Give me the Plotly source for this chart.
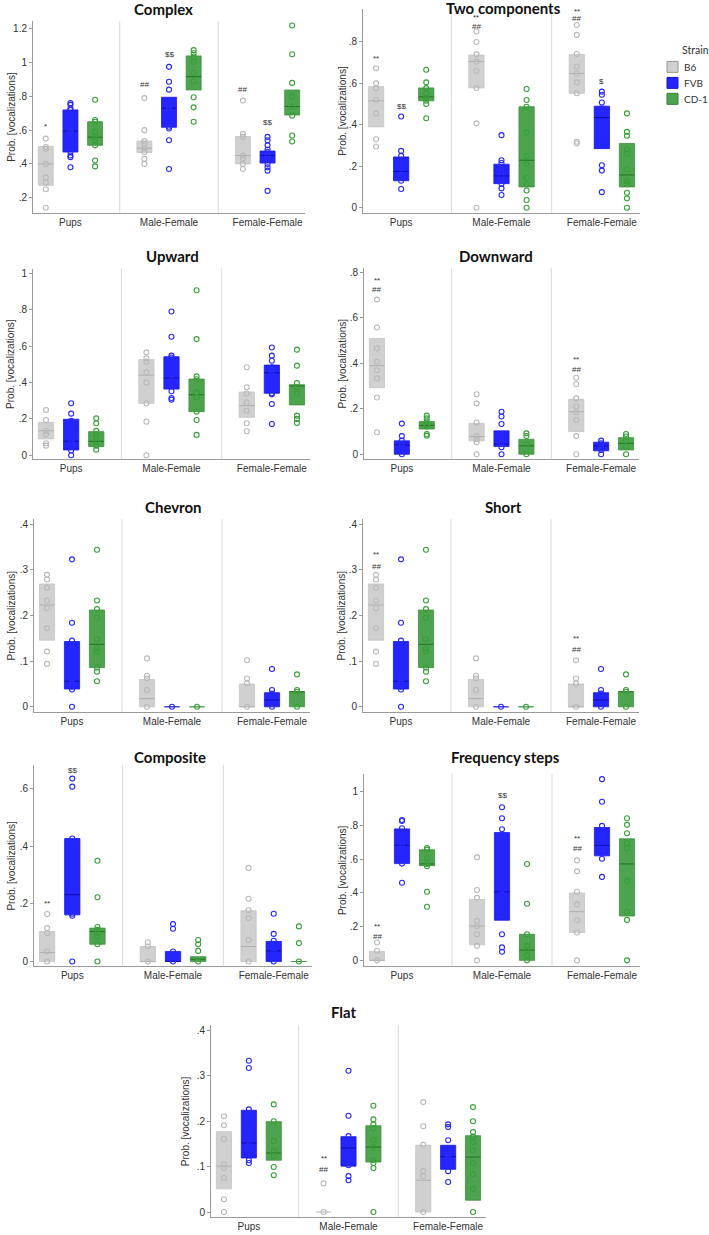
import plotly.graph_objects as go

W, H = 709, 1235
categories = ["Pups", "Male-Female", "Female-Female"]
strains = ["B6", "FVB", "CD-1"]

# ---------------- data (points per strain -> group; boxes = [q1, median, q3]) -------------
complex_pts = [
    [[0.55, 0.50, 0.49, 0.40, 0.32, 0.29, 0.25, 0.14],
     [0.79, 0.60, 0.535, 0.52, 0.49, 0.47, 0.43, 0.40],
     [0.775, 0.578, 0.56, 0.45, 0.43, 0.40, 0.37]],
    [[0.76, 0.75, 0.73, 0.72, 0.60, 0.59, 0.58, 0.47, 0.45, 0.44, 0.38],
     [0.975, 0.887, 0.84, 0.765, 0.75, 0.735, 0.72, 0.62, 0.61, 0.54, 0.37],
     [0.56, 0.54, 0.51, 0.485, 0.47, 0.45, 0.43, 0.40, 0.38, 0.36, 0.24]],
    [[0.78, 0.66, 0.65, 0.59, 0.56, 0.54, 0.51, 0.42, 0.385],
     [1.074, 1.056, 1.036, 1.005, 0.94, 0.89, 0.795, 0.735, 0.65],
     [1.22, 1.05, 0.88, 0.80, 0.74, 0.686, 0.568, 0.533]],
]
complex_box = [
    [[0.273, 0.40, 0.503], [0.468, 0.493, 0.535], [0.40, 0.45, 0.562]],
    [[0.47, 0.594, 0.72], [0.617, 0.73, 0.795], [0.405, 0.45, 0.476]],
    [[0.51, 0.558, 0.65], [0.838, 0.917, 1.04], [0.69, 0.74, 0.838]],
]
complex_marks = [(0, 0, 0.62, "*"), (0, 1, 0.87, "##"), (1, 1, 1.05, "$$"),
                 (0, 2, 0.84, "##"), (1, 2, 0.647, "$$")]

two_pts = [
    [[0.673, 0.60, 0.577, 0.52, 0.455, 0.33, 0.295],
     [0.85, 0.80, 0.74, 0.705, 0.66, 0.578, 0.407, 0.0],
     [0.882, 0.834, 0.742, 0.68, 0.648, 0.605, 0.552, 0.318, 0.31]],
    [[0.44, 0.274, 0.25, 0.218, 0.194, 0.16, 0.15, 0.13, 0.09],
     [0.35, 0.229, 0.216, 0.195, 0.173, 0.152, 0.131, 0.115, 0.093, 0.061],
     [0.56, 0.545, 0.508, 0.48, 0.455, 0.41, 0.368, 0.205, 0.179, 0.075]],
    [[0.666, 0.605, 0.577, 0.55, 0.53, 0.516, 0.50, 0.432],
     [0.573, 0.52, 0.487, 0.363, 0.248, 0.211, 0.144, 0.112, 0.083, 0.037, 0.0],
     [0.455, 0.366, 0.347, 0.282, 0.26, 0.184, 0.128, 0.115, 0.072, 0.045, 0.0]],
]
two_box = [
    [[0.39, 0.516, 0.585], [0.578, 0.706, 0.737], [0.552, 0.648, 0.739]],
    [[0.13, 0.175, 0.245], [0.116, 0.153, 0.21], [0.285, 0.435, 0.49]],
    [[0.516, 0.535, 0.578], [0.10, 0.229, 0.487], [0.10, 0.158, 0.31]],
]
two_marks = [(0, 0, 0.72, "**"), (1, 0, 0.487, "$$"), (0, 1, 0.916, "**"), (0, 1, 0.874, "##"),
             (0, 2, 0.947, "**"), (0, 2, 0.911, "##"), (1, 2, 0.608, "$")]

upward_pts = [
    [[0.249, 0.194, 0.135, 0.115, 0.066, 0.053],
     [0.566, 0.533, 0.515, 0.456, 0.40, 0.286, 0.185, 0.0],
     [0.484, 0.374, 0.34, 0.29, 0.245, 0.176, 0.132]],
    [[0.286, 0.229, 0.19, 0.147, 0.114, 0.09, 0.075, 0.048, 0.026, 0.0],
     [0.791, 0.652, 0.548, 0.538, 0.48, 0.447, 0.414, 0.383, 0.352, 0.315, 0.306],
     [0.593, 0.548, 0.52, 0.484, 0.47, 0.447, 0.341, 0.335, 0.282, 0.172]],
    [[0.203, 0.176, 0.134, 0.114, 0.095, 0.077, 0.053, 0.031],
     [0.908, 0.639, 0.434, 0.418, 0.346, 0.319, 0.24, 0.194, 0.112],
     [0.581, 0.493, 0.397, 0.374, 0.34, 0.218, 0.2, 0.178]],
]
upward_box = [
    [[0.09, 0.135, 0.181], [0.286, 0.441, 0.526], [0.209, 0.273, 0.348]],
    [[0.029, 0.077, 0.198], [0.364, 0.425, 0.542], [0.341, 0.454, 0.496]],
    [[0.048, 0.077, 0.13], [0.24, 0.333, 0.419], [0.277, 0.381, 0.388]],
]
upward_marks = []

downward_pts = [
    [[0.681, 0.558, 0.466, 0.407, 0.37, 0.334, 0.25, 0.097],
     [0.264, 0.223, 0.14, 0.08, 0.066, 0.053, 0.0],
     [0.337, 0.308, 0.246, 0.21, 0.185, 0.151, 0.08, 0.0]],
    [[0.135, 0.08, 0.06, 0.045, 0.03, 0.015, 0.0],
     [0.187, 0.166, 0.133, 0.075, 0.051, 0.031, 0.0],
     [0.06, 0.048, 0.037, 0.019, 0.0]],
    [[0.17, 0.158, 0.144, 0.13, 0.122, 0.089, 0.082],
     [0.092, 0.08, 0.044, 0.0],
     [0.089, 0.078, 0.06, 0.034, 0.0]],
]
downward_box = [
    [[0.293, 0.39, 0.51], [0.059, 0.078, 0.136], [0.10, 0.187, 0.242]],
    [[0.0, 0.041, 0.059], [0.034, 0.045, 0.103], [0.015, 0.037, 0.053]],
    [[0.111, 0.127, 0.144], [0.0, 0.037, 0.066], [0.019, 0.048, 0.073]],
]
downward_marks = [(0, 0, 0.765, "**"), (0, 0, 0.727, "##"), (0, 2, 0.418, "**"), (0, 2, 0.371, "##")]

chevron_pts = [
    [[0.289, 0.279, 0.261, 0.233, 0.216, 0.172, 0.121, 0.094],
     [0.106, 0.068, 0.062, 0.037, 0.0],
     [0.102, 0.062, 0.051, 0.0]],
    [[0.323, 0.184, 0.145, 0.135, 0.06, 0.053, 0.044, 0.038, 0.0],
     [0.0],
     [0.083, 0.037, 0.029, 0.026, 0.0]],
    [[0.344, 0.233, 0.214, 0.195, 0.148, 0.128, 0.121, 0.086, 0.077, 0.056],
     [0.0],
     [0.071, 0.037, 0.033, 0.0]],
]
chevron_box = [
    [[0.146, 0.223, 0.269], [0.0, 0.018, 0.06], [0.0, 0.0, 0.05]],
    [[0.039, 0.056, 0.143], [0.0, 0.0, 0.0], [0.0, 0.015, 0.031]],
    [[0.086, 0.137, 0.212], [0.0, 0.0, 0.0], [0.0, 0.033, 0.033]],
]
chevron_marks = []

short_pts = [
    [[0.289, 0.279, 0.261, 0.233, 0.216, 0.172, 0.121, 0.094],
     [0.106, 0.068, 0.062, 0.037, 0.0],
     [0.102, 0.062, 0.051, 0.0]],
    [[0.323, 0.184, 0.145, 0.135, 0.06, 0.053, 0.044, 0.038, 0.0],
     [0.0],
     [0.083, 0.037, 0.029, 0.026, 0.0]],
    [[0.344, 0.233, 0.214, 0.195, 0.148, 0.128, 0.121, 0.086, 0.077, 0.056],
     [0.0],
     [0.071, 0.037, 0.033, 0.0]],
]
short_box = [
    [[0.146, 0.223, 0.269], [0.0, 0.018, 0.06], [0.0, 0.0, 0.05]],
    [[0.039, 0.056, 0.143], [0.0, 0.0, 0.0], [0.0, 0.015, 0.031]],
    [[0.086, 0.137, 0.212], [0.0, 0.0, 0.0], [0.0, 0.033, 0.033]],
]
short_marks = [(0, 0, 0.333, "**"), (0, 0, 0.307, "##"), (0, 2, 0.149, "**"), (0, 2, 0.126, "##")]

composite_pts = [
    [[0.165, 0.116, 0.099, 0.035, 0.0],
     [0.067, 0.052, 0.0],
     [0.325, 0.218, 0.178, 0.151, 0.075, 0.0]],
    [[0.635, 0.607, 0.427, 0.255, 0.247, 0.217, 0.166, 0.159, 0.0],
     [0.13, 0.114, 0.035, 0.0],
     [0.166, 0.096, 0.072, 0.06, 0.046, 0.032, 0.0]],
    [[0.35, 0.223, 0.12, 0.11, 0.099, 0.087, 0.06, 0.0],
     [0.075, 0.06, 0.037, 0.0],
     [0.122, 0.064, 0.0]],
]
composite_box = [
    [[0.0, 0.031, 0.104], [0.0, 0.0, 0.052], [0.0, 0.052, 0.176]],
    [[0.162, 0.232, 0.427], [0.0, 0.0, 0.035], [0.0, 0.037, 0.07]],
    [[0.06, 0.104, 0.116], [0.0, 0.008, 0.017], [0.0, 0.0, 0.0]],
]
composite_marks = [(0, 0, 0.20, "**"), (1, 0, 0.664, "$$")]

freq_pts = [
    [[0.106, 0.057, 0.0],
     [0.611, 0.417, 0.371, 0.234, 0.204, 0.155, 0.086, 0.0],
     [0.593, 0.528, 0.407, 0.332, 0.238, 0.165, 0.0]],
    [[0.833, 0.827, 0.784, 0.745, 0.705, 0.672, 0.637, 0.574, 0.46],
     [0.908, 0.843, 0.778, 0.745, 0.456, 0.42, 0.39, 0.328, 0.155, 0.077, 0.051],
     [1.075, 0.941, 0.798, 0.75, 0.715, 0.66, 0.637, 0.603, 0.495]],
    [[0.666, 0.656, 0.607, 0.572, 0.558, 0.407, 0.318],
     [0.572, 0.336, 0.155, 0.086, 0.061, 0.028, 0.0],
     [0.843, 0.804, 0.754, 0.695, 0.666, 0.473, 0.287, 0.24, 0.0]],
]
freq_box = [
    [[0.0, 0.0, 0.053], [0.092, 0.204, 0.361], [0.165, 0.289, 0.40]],
    [[0.574, 0.682, 0.78], [0.238, 0.407, 0.758], [0.62, 0.682, 0.788]],
    [[0.562, 0.572, 0.656], [0.0, 0.061, 0.155], [0.263, 0.572, 0.721]],
]
freq_marks = [(0, 0, 0.198, "**"), (0, 0, 0.139, "##"), (1, 1, 0.976, "$$"),
              (0, 2, 0.725, "**"), (0, 2, 0.666, "##")]

flat_pts = [
    [[0.211, 0.191, 0.161, 0.105, 0.097, 0.075, 0.028, 0.0],
     [0.063, 0.0],
     [0.242, 0.189, 0.148, 0.09, 0.079, 0.0]],
    [[0.333, 0.317, 0.226, 0.213, 0.166, 0.147, 0.139, 0.114, 0.108],
     [0.311, 0.212, 0.167, 0.154, 0.129, 0.119, 0.103, 0.079, 0.07],
     [0.193, 0.187, 0.158, 0.14, 0.127, 0.122, 0.108, 0.09, 0.066]],
    [[0.237, 0.2, 0.156, 0.134, 0.123, 0.099, 0.081],
     [0.234, 0.204, 0.193, 0.185, 0.158, 0.143, 0.114, 0.108, 0.097, 0.0],
     [0.231, 0.2, 0.176, 0.166, 0.154, 0.136, 0.108, 0.083, 0.051, 0.0]],
]
flat_box = [
    [[0.051, 0.101, 0.177], [0.0, 0.0, 0.0], [0.0, 0.07, 0.147]],
    [[0.119, 0.152, 0.224], [0.101, 0.141, 0.166], [0.094, 0.122, 0.147]],
    [[0.114, 0.13, 0.199], [0.11, 0.143, 0.19], [0.026, 0.121, 0.168]],
]
flat_marks = [(0, 1, 0.117, "**"), (0, 1, 0.094, "##")]

titles = ["Complex", "Two components", "Upward", "Downward", "Chevron", "Short",
          "Composite", "Frequency steps", "Flat"]
ytick_vals = [[0.2, 0.4, 0.6, 0.8, 1.0, 1.2], [0, 0.2, 0.4, 0.6, 0.8], [0, 0.2, 0.4, 0.6, 0.8, 1.0],
              [0, 0.2, 0.4, 0.6, 0.8], [0, 0.1, 0.2, 0.3, 0.4], [0, 0.1, 0.2, 0.3, 0.4],
              [0, 0.2, 0.4, 0.6], [0, 0.2, 0.4, 0.6, 0.8, 1.0], [0, 0.1, 0.2, 0.3, 0.4]]

panel_data = [
    (complex_pts, complex_box, complex_marks), (two_pts, two_box, two_marks),
    (upward_pts, upward_box, upward_marks), (downward_pts, downward_box, downward_marks),
    (chevron_pts, chevron_box, chevron_marks), (short_pts, short_box, short_marks),
    (composite_pts, composite_box, composite_marks), (freq_pts, freq_box, freq_marks),
    (flat_pts, flat_box, flat_marks),
]

# ---------------- layout geometry (pixels) ----------------
# x0, x1, ytop, ybot, yrange, title xy, ytitle x
geom = [
    (33, 305, 20, 212, (0.111, 1.247), (163, 8), 12),
    (363, 640, 8, 212, (-0.024, 0.959), (503, 7), 343),
    (33, 310, 268, 459, (-0.022, 1.027), (172, 255), 11),
    (364, 639, 267, 459, (-0.022, 0.822), (496, 255), 342),
    (34, 310, 519, 712, (-0.011, 0.411), (173, 507), 12),
    (363, 639, 519, 712, (-0.011, 0.411), (503, 507), 342),
    (34, 312, 765, 967, (-0.017, 0.683), (170, 757), 12),
    (364, 640, 774, 967, (-0.036, 1.107), (505, 757), 342),
    (211, 486, 1026, 1218, (-0.011, 0.411), (344, 1013), 185),
]

box_fill = ["rgb(208,208,208)", "rgb(36,36,252)", "rgb(78,163,78)"]
box_edge = ["rgb(196,196,196)", "rgb(25,25,225)", "rgb(62,145,62)"]
median_col = ["rgb(175,175,175)", "rgb(15,15,170)", "rgb(35,115,35)"]
point_col = ["rgb(185,185,185)", "rgb(40,40,255)", "rgb(55,160,55)"]
legend_edge = ["rgb(150,150,150)", "rgb(20,20,200)", "rgb(50,130,50)"]
offsets = [-0.25, 0.0, 0.25]
BOX_W = 0.152
AX_COL = "#9a9a9a"
TICK_FONT = dict(family="Liberation Sans, Arial", size=10, color="#333")
LEG_FONT = "Lato, Open Sans"


def fmt(v):
    if v == 0:
        return "0"
    s = f"{v:g}"
    return s[1:] if s.startswith("0.") else s


fig = go.Figure()
annotations = []
shapes = []
layout_axes = {}

for i, (title, (pts, boxes, marks), g) in enumerate(zip(titles, panel_data, geom)):
    n = "" if i == 0 else str(i + 1)
    xa, ya = "x" + n, "y" + n
    x0, x1, ytop, ybot, yr, (tx, ty), ytx = g
    for s in range(3):
        xs = [k + offsets[s] for k in range(3)]
        q1 = [boxes[s][k][0] for k in range(3)]
        med = [boxes[s][k][1] for k in range(3)]
        q3 = [boxes[s][k][2] for k in range(3)]
        fig.add_trace(go.Bar(
            x=xs, y=[b - a for a, b in zip(q1, q3)], base=q1, width=BOX_W,
            marker=dict(color=box_fill[s], line=dict(color=box_edge[s], width=0.8)),
            name=strains[s], showlegend=False,
            xaxis=xa, yaxis=ya, hoverinfo="skip"))
        mx, my = [], []
        for k in range(3):
            if q3[k] - q1[k] > 0:
                mx += [xs[k] - BOX_W / 2, xs[k] + BOX_W / 2, None]
                my += [med[k], med[k], None]
        fig.add_trace(go.Scatter(x=mx, y=my, mode="lines",
                                 line=dict(color=median_col[s], width=1),
                                 showlegend=False, xaxis=xa, yaxis=ya, hoverinfo="skip"))
        px, py = [], []
        for k in range(3):
            px += [xs[k]] * len(pts[s][k])
            py += pts[s][k]
        fig.add_trace(go.Scatter(x=px, y=py, mode="markers",
                                 marker=dict(symbol="circle-open", size=5,
                                             color=point_col[s], line=dict(width=1.1)),
                                 showlegend=False, xaxis=xa, yaxis=ya, hoverinfo="skip"))
    for (s, k, yv, txt) in marks:
        annotations.append(dict(x=k + offsets[s], y=yv, xref=xa, yref=ya, text=txt,
                                showarrow=False, font=dict(family="Liberation Sans, Arial",
                                                           size=8, color="#333"),
                                xanchor="center", yanchor="middle"))
    # separators
    for sx in (0.5, 1.5):
        shapes.append(dict(type="line", xref=xa, yref=ya + " domain", x0=sx, x1=sx, y0=0, y1=1,
                           line=dict(color="#d9d9d9", width=1)))
    layout_axes["xaxis" + n] = dict(
        domain=[x0 / W, x1 / W], range=[-0.38, 2.38], anchor=ya,
        tickvals=[0, 1, 2], ticktext=categories, ticks="", showgrid=False, zeroline=False,
        showline=True, linecolor=AX_COL, linewidth=1, tickfont=TICK_FONT, fixedrange=True)
    layout_axes["yaxis" + n] = dict(
        domain=[1 - ybot / H, 1 - ytop / H], range=list(yr), anchor=xa,
        tickvals=ytick_vals[i], ticktext=[fmt(v) for v in ytick_vals[i]],
        ticks="outside", ticklen=3, tickcolor=AX_COL, showgrid=False, zeroline=False,
        showline=True, linecolor=AX_COL, linewidth=1, tickfont=TICK_FONT, fixedrange=True)
    annotations.append(dict(x=tx / W, y=1 - ty / H, xref="paper", yref="paper", text="<b>%s</b>" % title,
                            showarrow=False, xanchor="center", yanchor="middle",
                            font=dict(family="Lato, Open Sans", size=15, color="#111")))
    annotations.append(dict(x=ytx / W, y=1 - (ytop + ybot) / 2 / H, xref="paper", yref="paper",
                            text="Prob. [vocalizations]", textangle=-90, showarrow=False,
                            xanchor="center", yanchor="middle",
                            font=dict(family="Liberation Sans, Arial", size=10, color="#333")))

# ---------------- legend (drawn manually so it fits the narrow right margin) ----------------
annotations.append(dict(x=680 / W, y=1 - 49 / H, xref="paper", yref="paper", text="Strain",
                        showarrow=False, xanchor="left", yanchor="middle",
                        font=dict(family=LEG_FONT, size=10.5, color="#333")))
for s, name in enumerate(strains):
    cy = 66 + 16 * s
    shapes.append(dict(type="rect", xref="paper", yref="paper",
                       x0=667 / W, x1=678 / W, y0=1 - (cy + 5.5) / H, y1=1 - (cy - 5.5) / H,
                       fillcolor=box_fill[s], line=dict(color=legend_edge[s], width=1)))
    annotations.append(dict(x=682 / W, y=1 - cy / H, xref="paper", yref="paper", text=name,
                            showarrow=False, xanchor="left", yanchor="middle",
                            font=dict(family=LEG_FONT, size=10, color="#333")))

fig.update_layout(
    width=W, height=H, margin=dict(l=0, r=0, t=0, b=0),
    plot_bgcolor="white", paper_bgcolor="white", barmode="overlay", showlegend=False,
    annotations=annotations, shapes=shapes,
    **layout_axes,
)

fig.write_html("out.html", config={"displayModeBar": False, "staticPlot": True},
               post_script="document.body.style.margin='0';"
                           "document.documentElement.style.overflow='hidden';")
